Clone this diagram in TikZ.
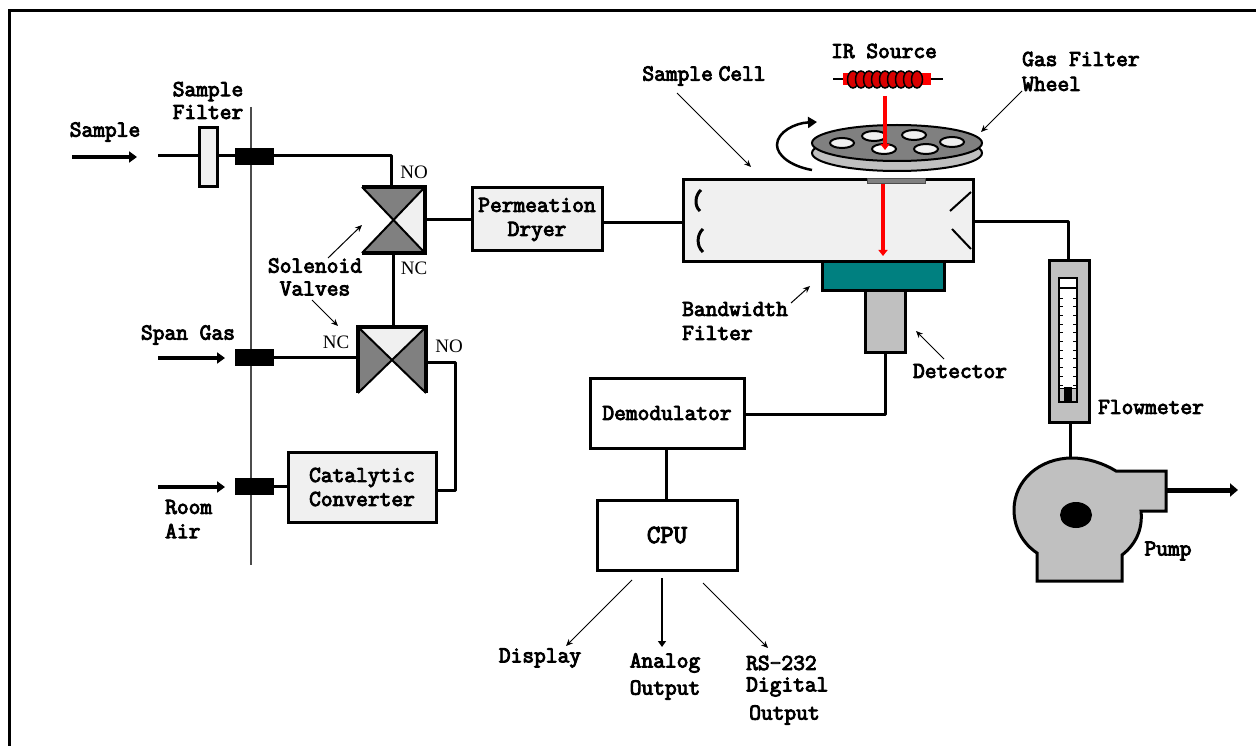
\documentclass[tikz,border=0pt]{standalone}
\usepackage{fontspec}
\newfontfamily\nofont{Liberation Serif}
\newfontfamily\lblfont[FakeBold=4]{Latin Modern Mono}
\usetikzlibrary{arrows.meta,calc}
\definecolor{lite}{HTML}{F0F0F0}
\definecolor{midg}{HTML}{808080}
\definecolor{silv}{HTML}{C0C0C0}
\definecolor{tealc}{HTML}{008080}
\tikzset{
  lab/.style={font=\lblfont\fontsize{22.8}{22.8}\selectfont,inner sep=0pt,align=left},
  nolab/.style={font=\nofont\fontsize{19}{19}\selectfont,inner sep=0pt},
  boxn/.style={draw=black,line width=3pt,inner sep=0pt,outer sep=0pt,align=center,font=\lblfont\fontsize{22.8}{24}\selectfont},
  pipe/.style={draw=black,line width=3pt,line join=round},
  flow/.style={line width=4pt,-{Triangle[length=8pt,width=11pt]}},
  thinarrow/.style={line width=1pt,-{Stealth[length=7pt,width=6pt]}},
  redbeam/.style={draw=red,line width=4.5pt,-{Triangle[length=6pt,width=9pt]}},
  port/.style={fill=black,inner sep=0pt,outer sep=0pt,minimum width=39pt,minimum height=17pt},
  hole/.style={draw=black,line width=2pt,fill=lite},
}
\begin{document}
\begin{tikzpicture}[x=1pt,y=-1pt]
\useasboundingbox (0,0) rectangle (1256,746);
\fill[white] (0,0) rectangle (1256,746);
\draw[line width=3pt] (9.5,746) -- (9.5,10.5) -- (1256,10.5);
% bulkhead
\coordinate (bt) at (251,107); \coordinate (bb) at (251,565);
\draw[line width=2.5pt,draw=black!70] (bt) -- (bb);
% ports
\node[port] (p1) at (254.5,156.5) {};
\node[port] (p2) at (254.5,357.5) {};
\node[port] (p3) at (254.5,486.5) {};
% inlet arrows
\coordinate (a1s) at (72,157); \coordinate (a1e) at (137,157);
\coordinate (a2s) at (158,358); \coordinate (a2e) at (225,358);
\coordinate (a3s) at (158,487); \coordinate (a3e) at (225,487);
\draw[flow] (a1s) -- (a1e);
\draw[flow] (a2s) -- (a2e);
\draw[flow] (a3s) -- (a3e);
% sample filter
\node[boxn,fill=lite,minimum width=18pt,minimum height=59pt] (sf) at (208.5,157) {};
\coordinate (sin) at (158,156);
\draw[pipe] (sin) -- (sin -| sf.west);
\draw[pipe] (sin -| sf.east) -- (sin -| p1.west);
% valves
\node[inner sep=0pt,outer sep=0pt,minimum width=63pt,minimum height=66pt] (v1) at (393.5,220) {};
\node[inner sep=0pt,outer sep=0pt,minimum width=68pt,minimum height=66pt] (v2) at (392,360) {};
\draw[pipe] (p1.east |- 0,156) -- (391,156) -- (391,187);
\draw[pipe] (v1.south) -- (v1.south |- v2.north);
\draw[pipe] (p2.east) -- (p2.east -| v2.west);
% valve 1
\fill[midg] (v1.north west) -- (v1.north east) -- (v1.center) -- cycle;
\fill[midg] (v1.south west) -- (v1.south east) -- (v1.center) -- cycle;
\fill[lite] (v1.north east) -- (v1.south east) -- (v1.center) -- cycle;
\draw[line width=2pt] (v1.north west) -- (v1.south east) (v1.south west) -- (v1.north east);
\draw[line width=4.5pt,line join=miter] (v1.north west) -- (v1.north east) -- (v1.south east) -- (v1.south west);
% valve 2
\fill[midg] (v2.north west) -- (v2.south west) -- (v2.center) -- cycle;
\fill[midg] (v2.north east) -- (v2.south east) -- (v2.center) -- cycle;
\fill[lite] (v2.north west) -- (v2.north east) -- (v2.center) -- cycle;
\draw[line width=2pt] (v2.north west) -- (v2.south east) (v2.south west) -- (v2.north east);
\draw[line width=4.5pt,line join=miter] (v2.south west) -- (v2.north west) -- (v2.north east) -- (v2.south east);
% boxes
\node[boxn,fill=lite,minimum width=130pt,minimum height=63pt] (perm) at (537,219.5) {Permeation\\Dryer};
\node[boxn,fill=lite,minimum width=148pt,minimum height=70pt] (cat) at (362,487) {Catalytic\\Converter};
\node[boxn,fill=lite,minimum width=290pt,minimum height=82pt] (cell) at (828,221) {};
\node[boxn,fill=tealc,minimum width=122pt,minimum height=28pt] (band) at (883,276) {};
\node[boxn,fill=silv,minimum width=40pt,minimum height=62pt] (det) at (885,321) {};
\node[boxn,fill=white,minimum width=154pt,minimum height=70pt] (dem) at (667,413) {Demodulator};
\node[boxn,fill=white,minimum width=140pt,minimum height=70pt,font=\lblfont\fontsize{26}{26}\selectfont] (cpu) at (667,535) {CPU};
% pipes
\draw[pipe] (v1.east) -- (v1.east -| perm.west);
\draw[pipe] (perm.east |- 0,223) -- (cell.west |- 0,223);
\draw[pipe] (p3.east) -- (p3.east -| cat.west);
\draw[pipe] (v2.east |- 0,362) -- (455,362) -- (455,490) -- (cat.east |- 0,490);
\draw[pipe] (det.south) -- (885,414) -- (dem.east |- 0,414);
\draw[pipe] (dem.south -| 666,0) -- (cpu.north -| 666,0);
% mirrors
\draw[line width=3pt] (701,190) .. controls (695,195) and (694,206) .. (700,211);
\draw[line width=3pt] (703,229) .. controls (697,234) and (696,246) .. (703,252);
\draw[line width=2pt] (950,211) -- (971,192);
\draw[line width=2pt] (952,229) -- (971,249);
% window
\node[draw=black!70,line width=1pt,fill=midg,inner sep=0pt,minimum width=58pt,minimum height=5pt] (win) at (896,181) {};
\draw[redbeam] (883,184) -- (883,256);
% wheel
\draw[line width=2pt,fill=silv] (897,153) ellipse [x radius=85,y radius=18];
\draw[line width=2pt,fill=midg] (897,143) ellipse [x radius=85,y radius=18];
\foreach \hx/\hy in {842/143,874/136,914/135,952/142,926/149}
  \draw[hole] (\hx,\hy) ellipse [x radius=12,y radius=5];
\draw[hole,fill=white] (884,149) ellipse [x radius=12,y radius=5];
\draw[redbeam] (885,96) -- (885,150);
% rotation arrow
\draw[line width=2.5pt,-{Triangle[length=9pt,width=11pt]}] (812,170) .. controls (790,166) and (777,155) .. (777,145) .. controls (777,132) and (795,123) .. (817,122);
% IR source
\draw[line width=2pt] (833,79) -- (943,79);
\fill[red] (843,73) rectangle (931,85);
\foreach \cx in {853,861,...,917}
  \draw[line width=1.5pt,fill=red!85!black] (\cx,79.5) ellipse [x radius=5.5,y radius=8.5];
% flowmeter
\node[boxn,fill=silv,minimum width=40pt,minimum height=161pt] (fm) at (1069,341.5) {};
\node[draw=black,line width=1.5pt,fill=white,inner sep=0pt,minimum width=18pt,minimum height=124pt] (tube) at (1068,340) {};
\draw[line width=2pt] (1059,288) -- (1077,288);
\foreach \ty in {298,306.7,...,386} { \draw[line width=1pt] (1059,\ty) -- (1063,\ty); \draw[line width=1pt] (1073,\ty) -- (1077,\ty); }
\draw[line width=1pt] (1059,388) -- (1077,388);
\fill[silv] (1060,389) rectangle (1076,401);
\fill[black] (1064,387) rectangle (1072,401);
\draw[pipe] (cell.east |- 0,222) -- (1068,222) -- (fm.north -| 1068,0);
% pump
\node[inner sep=0pt,outer sep=0pt,minimum width=1pt,minimum height=1pt] (pumptop) at (1070,458) {};
\draw[pipe] (fm.south -| 1070,0) -- (pumptop);
\draw[line width=3pt,fill=silv,line join=miter] (1116,471) -- (1166,471) -- (1166,511) -- (1141,511) .. controls (1143,530) and (1135,545) .. (1122,555) -- (1122,581) -- (1037,581) -- (1037,553)
  .. controls (1022,543) and (1014,527) .. (1014,510) .. controls (1014,480) and (1040,458) .. (1072,458) .. controls (1087,458) and (1103,463) .. (1116,471) -- cycle;
\fill[black] (1076,515) ellipse [x radius=16,y radius=13];
\coordinate (pout) at (1166,490); \coordinate (pend) at (1238,490);
\draw[line width=5pt,-{Triangle[length=8pt,width=13pt]}] (pout) -- (pend);
% labels
\node[lab] (l1) at (105,132) {Sample};
\node[lab,align=center] (l2) at (208,100.5) {Sample\\Filter};
\node[lab,align=center] (l3) at (315,277) {Solenoid\\Valves};
\node[nolab] (no1) at (414,172) {NO};
\node[nolab] (nc1) at (414,268) {NC};
\node[nolab] (nc2) at (336,342) {NC};
\node[nolab] (no2) at (449,346) {NO};
\node[lab] (l4) at (188,335) {Span Gas};
\node[lab,anchor=west] (l5) at (165,507) {Room};
\node[lab,anchor=west] (l6) at (165,531) {Air};
\node[lab] (l7) at (704,76) {Sample\hspace{-6pt} Cell};
\node[lab] (l8) at (884,51) {IR Source};
\node[lab,anchor=west] (l9) at (1022,59) {Gas Filter};
\node[lab,anchor=west] (l10) at (1022,84) {Wheel};
\node[lab,anchor=west] (l11) at (682,309) {Bandwidth};
\node[lab,anchor=west] (l12) at (682,333) {Filter};
\node[lab] (l13) at (960,371) {Detector};
\node[lab] (l14) at (1151,407) {Flowmeter};
\node[lab] (l15) at (1168,551) {Pump};
\node[lab] (l16) at (540,658) {Display};
\node[lab] (l17) at (665,663) {Analog};
\node[lab] (l18) at (665,690) {Output};
\node[lab,anchor=west] (l19) at (746,663) {RS-232};
\node[lab,anchor=west] (l20) at (746,687) {Digital};
\node[lab,anchor=west] (l21) at (749,715) {Output};
% thin arrows
\draw[thinarrow] (677,93) -- (751,167);
\draw[thinarrow] (1022,91) -- (981,132);
\draw[thinarrow] (328,258) -- (362,225);
\draw[thinarrow] (312,300) -- (338,326);
\draw[thinarrow] (791,303) -- (810,286);
\draw[thinarrow] (944,359) -- (916,331);
\draw[thinarrow] (632,580) -- (566,646);
\draw[line width=2pt,-{Triangle[length=6pt,width=8pt]}] (662,578) -- (662,647);
\draw[thinarrow] (703,583) -- (768,648);
\end{tikzpicture}
\end{document}
